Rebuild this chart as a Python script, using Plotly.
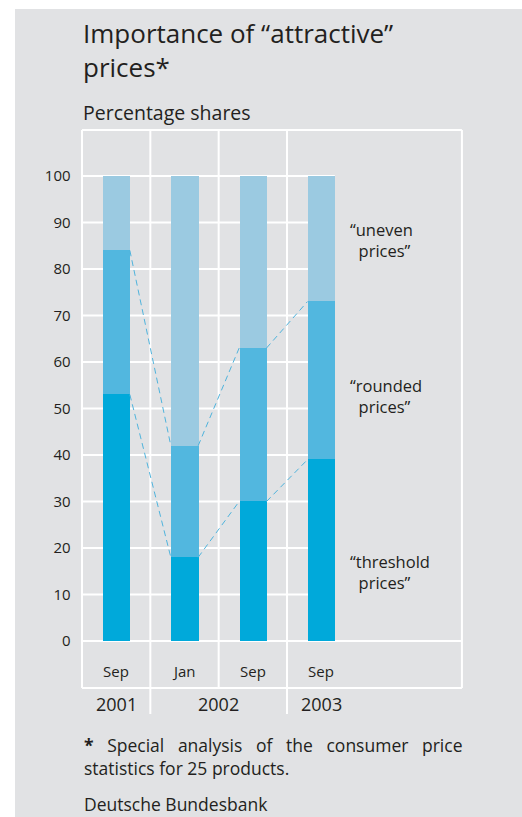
import plotly.graph_objects as go

W, H = 522, 817

# ---- data ----
months = ["Sep", "Jan", "Sep", "Sep"]
years = ["2001", "2002", "2003"]
year_centers = [0, 1.5, 3]
threshold = [53, 18, 30, 39]          # "threshold prices"
rounded = [31, 24, 33, 34]            # "rounded prices" (segment heights)
uneven = [16, 58, 37, 27]             # "uneven prices" (segment heights)
y_ticks = list(range(0, 101, 10))

# ---- styles ----
BG = "#e1e2e4"
TXT = "#231f20"
C_TH = "#00a9da"
C_RO = "#52b7df"
C_UN = "#9bcae1"
DASH = "#4fb3dc"
FONT = "Open Sans"
GRID = "#ffffff"

x_pos = list(range(len(months)))
BW = 0.4
XL, XR = -0.5, 5.06     # frame left/right (data)
YT, YB, YB2 = 109.9, -10.1, -15.7  # frame top, bottom, year-separator bottom

def px(x):
    return x / W

def py(y):
    return 1 - y / H

fig = go.Figure()
for vals, col in [(threshold, C_TH), (rounded, C_RO), (uneven, C_UN)]:
    fig.add_trace(go.Bar(x=x_pos, y=vals, width=BW, marker=dict(color=col, line=dict(width=0)),
                         hoverinfo="skip", showlegend=False))

cum1 = threshold
cum2 = [a + b for a, b in zip(threshold, rounded)]
for cum in (cum1, cum2):
    xs, ys = [], []
    for i in range(len(cum) - 1):
        xs += [x_pos[i] + BW / 2, x_pos[i + 1] - BW / 2, None]
        ys += [cum[i], cum[i + 1], None]
    fig.add_trace(go.Scatter(x=xs, y=ys, mode="lines",
                             line=dict(color=DASH, width=1, dash="6px,4px"),
                             hoverinfo="skip", showlegend=False))

shapes = []
# gray panel
shapes.append(dict(type="rect", xref="paper", yref="paper", x0=px(15), x1=1, y0=0, y1=py(9),
                   fillcolor=BG, line=dict(width=0), layer="below"))
def wline(x0, y0, x1, y1):
    shapes.append(dict(type="line", xref="x", yref="y", x0=x0, y0=y0, x1=x1, y1=y1,
                       line=dict(color=GRID, width=2), layer="below"))
for t in y_ticks[1:]:
    wline(XL, t, x_pos[-1] + BW / 2, t)
wline(XL, 0, XR, 0)
wline(XL, YT, XR, YT)
wline(XL, YB, XR, YB)
wline(XL, YB, XL, YT)
wline(XR, YB, XR, YT)
wline(0.5, YB2, 0.5, YT)
wline(1.5, YB, 1.5, YT)
wline(2.5, YB2, 2.5, YT)

ann = []
def a(text, x, y, size, xref="paper", yref="paper", xanchor="left", yanchor="middle", align="left"):
    ann.append(dict(text=text, x=x, y=y, xref=xref, yref=yref, xanchor=xanchor, yanchor=yanchor,
                    align=align, showarrow=False, font=dict(family=FONT, size=size, color=TXT)))

a("Importance of “attractive”<br>prices*", px(81), py(50), 26)
a("Percentage shares", px(81), py(112), 19.5)

for i, m in enumerate(months):
    a(m, x_pos[i], -6.45, 15, xref="x", yref="y", xanchor="center")
for yc, yr in zip(year_centers, years):
    a(yr, yc, -13.55, 18, xref="x", yref="y", xanchor="center")

NB = "\u00a0"
labels = [("“uneven", "prices”", 86.2),
          ("“rounded", "prices”", 52.7),
          ("“threshold", "prices”", 14.8)]
for l1, l2, yc in labels:
    a(l1 + "<br>" + NB * 2 + l2, px(348), yc, 16.5, yref="y")

words = ["<b>*</b>", "Special", "analysis", "of", "the", "consumer", "price"]
line1 = (" " + NB * 2).join(words)
a(line1 + "<br>statistics for 25 products.", px(82), py(756), 17.5)
a("Deutsche Bundesbank", px(82), py(804), 17.5)

xr0, xr1 = -0.55, 5.11
yr0, yr1 = -16.5, 110.5
colw = 68.33
yu = 4.65
x_left_px = 82 + (xr0 - XL) * colw
x_right_px = 82 + (xr1 - XL) * colw
y_top_px = 641 - yr1 * yu
y_bot_px = 641 - yr0 * yu

fig.update_layout(
    width=W, height=H, autosize=False,
    margin=dict(l=0, r=0, t=0, b=0, pad=0),
    paper_bgcolor="white", plot_bgcolor="rgba(0,0,0,0)",
    barmode="stack", bargap=0,
    showlegend=False,
    shapes=shapes, annotations=ann,
    xaxis=dict(domain=[px(x_left_px), px(x_right_px)], range=[xr0, xr1], visible=False, fixedrange=True),
    yaxis=dict(domain=[py(y_bot_px), py(y_top_px)], range=[yr0, yr1], tickvals=y_ticks,
               ticks="outside", ticklen=4, tickcolor="rgba(0,0,0,0)",
               showgrid=False, zeroline=False, showline=False,
               tickfont=dict(family=FONT, size=15, color=TXT), fixedrange=True),
)

fig.write_html("out.html")
